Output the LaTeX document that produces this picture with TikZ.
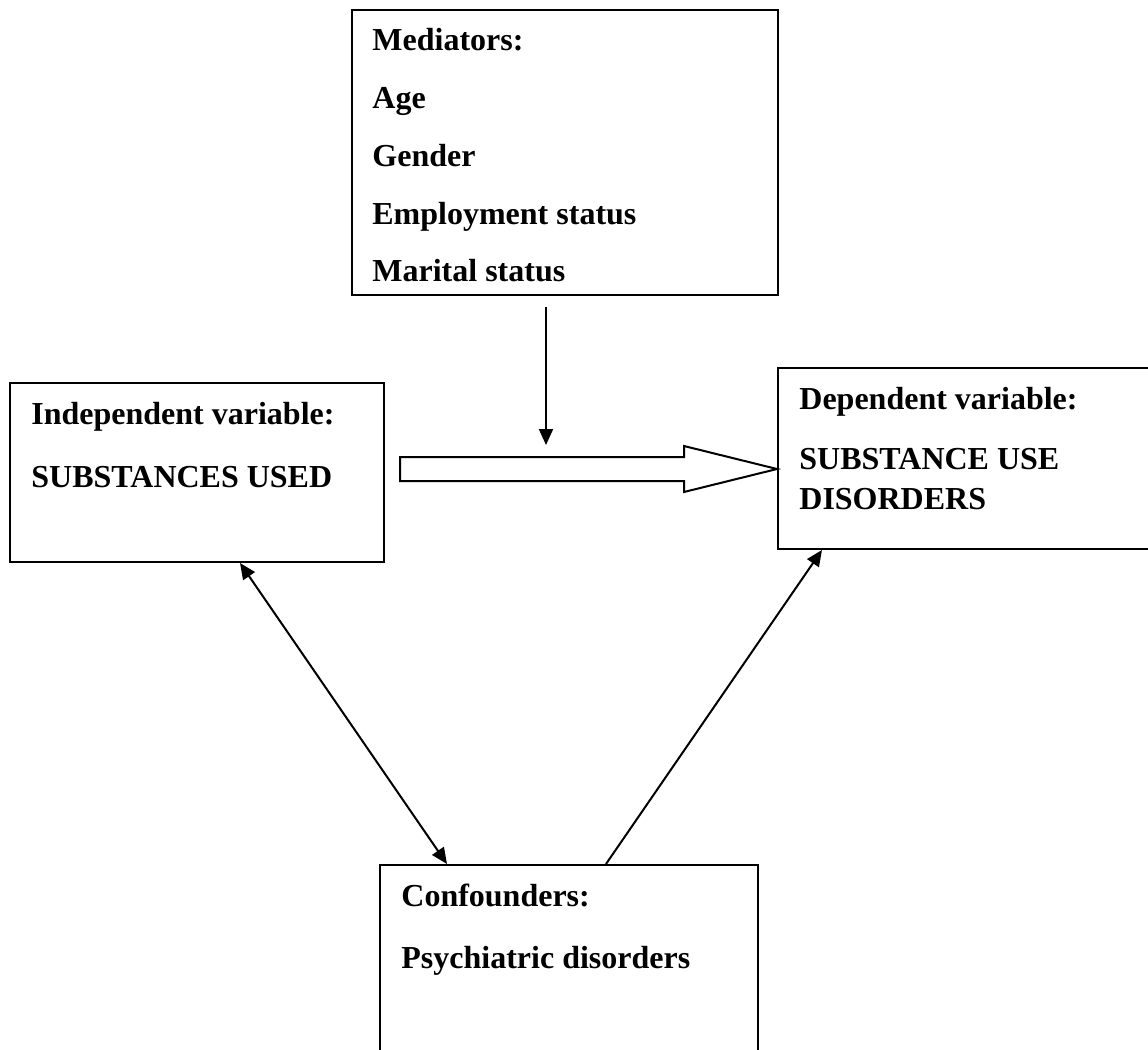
\documentclass[tikz,border=0pt]{standalone}
\usepackage{fontspec}
\setmainfont{Liberation Serif}
\usetikzlibrary{arrows.meta,fit}
\begin{document}
\begin{tikzpicture}[x=0.5pt, y=-0.5pt,
	box/.style={draw, line width=1pt, inner sep=0pt},
	txt/.style={anchor=base west, inner sep=0pt, font=\fontsize{16}{20}\selectfont\bfseries},
	link/.style={line width=1pt, -{Triangle[length=8pt,width=7pt]}}]
	\useasboundingbox (0,0) rectangle (1148,1050);
	\clip (0,0) rectangle (1148,1050);
	% boxes
	\node[box, fit={(352,10) (778,295)}] (med) {};
	\node[box, fit={(10,383) (384,562)}] (ind) {};
	\node[box, fit={(778,368) (1170,549)}] (dep) {};
	\node[box, fit={(380,865) (758,1070)}] (con) {};
	% texts
	\node[txt] (medA) at (372,50) {Mediators:};
	\node[txt] (medB) at (372,108) {Age};
	\node[txt] (medC) at (372,166) {Gender};
	\node[txt] (medD) at (372,224) {Employment status};
	\node[txt] (medE) at (372,281) {Marital status};
	\node[txt] (indA) at (31,424) {Independent variable:};
	\node[txt] (indB) at (31,487) {SUBSTANCES USED};
	\node[txt] (depA) at (799,409) {Dependent variable:};
	\node[txt] (depB) at (799,469) {SUBSTANCE USE};
	\node[txt] (depC) at (799,509) {DISORDERS};
	\node[txt] (conA) at (401,906) {Confounders:};
	\node[txt] (conB) at (401,968) {Psychiatric disorders};
	% block arrow
	\coordinate (tail) at (400,469);
	\coordinate (tip) at (dep.west |- tail);
	\draw[line width=1pt, line join=miter] (tail) ++(0,-12) -- (684,457) -- (684,446) -- (tip)
		-- (684,492) -- (684,481) -- (400,481) -- cycle;
	% connectors
	\coordinate (medtop) at (546,307);
	\coordinate (medend) at (546,445);
	\draw[link] (medtop) -- (medend);
	\draw[link, {Triangle[length=8pt,width=7pt]}-{Triangle[length=8pt,width=7pt]}] (ind.south -| 240,0) -- (con.north -| 447,0);
	\draw[link] (con.north -| 606,0) -- (dep.south -| 822,0);
\end{tikzpicture}
\end{document}
